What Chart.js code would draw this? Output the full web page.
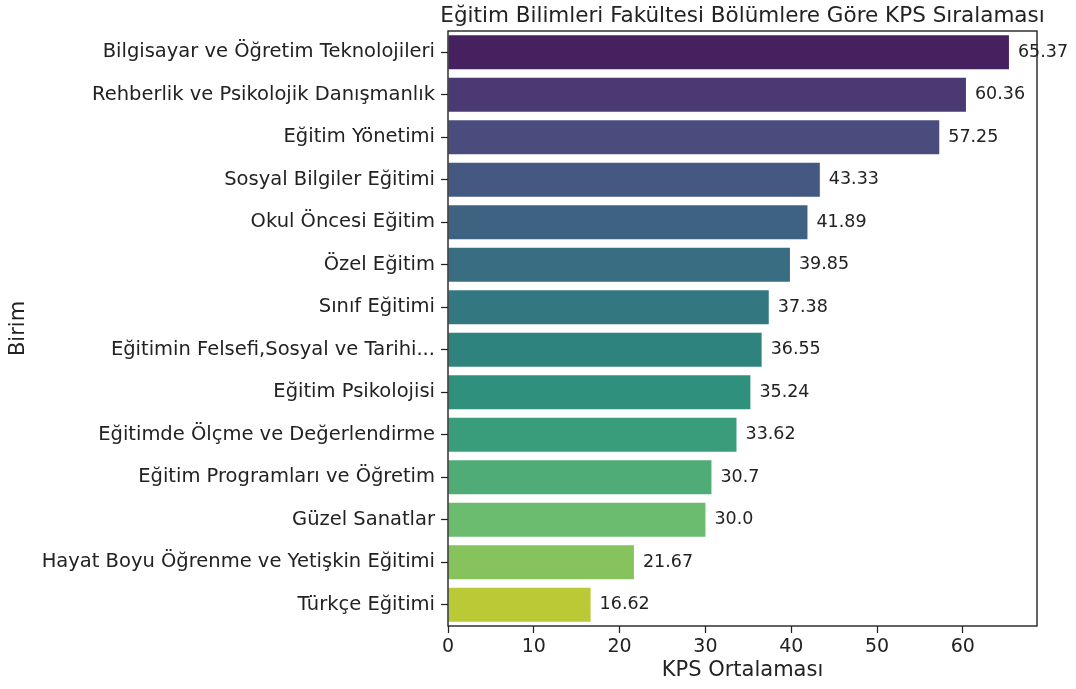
<!DOCTYPE html>
<html>
<head>
<meta charset="utf-8">
<script src="https://cdn.jsdelivr.net/npm/chart.js@4/dist/chart.umd.min.js"></script>
<style>
  html, body { margin: 0; padding: 0; background: #fff; }
  #wrap { width: 1076px; height: 689px; }
</style>
</head>
<body>
<div id="wrap"><canvas id="kps" width="1076" height="689"></canvas></div>
<script>
// Bölümler (top to bottom)
const categories = [
  "Bilgisayar ve Öğretim Teknolojileri",
  "Rehberlik ve Psikolojik Danışmanlık",
  "Eğitim Yönetimi",
  "Sosyal Bilgiler Eğitimi",
  "Okul Öncesi Eğitim",
  "Özel Eğitim",
  "Sınıf Eğitimi",
  "Eğitimin Felsefi,Sosyal ve Tarihi...",
  "Eğitim Psikolojisi",
  "Eğitimde Ölçme ve Değerlendirme",
  "Eğitim Programları ve Öğretim",
  "Güzel Sanatlar",
  "Hayat Boyu Öğrenme ve Yetişkin Eğitimi",
  "Türkçe Eğitimi",
];

const kpsMeans = [65.37, 60.36, 57.25, 43.33, 41.89, 39.85, 37.38, 36.55, 35.24, 33.62, 30.7, 30.0, 21.67, 16.62];
const valueLabels = ["65.37", "60.36", "57.25", "43.33", "41.89", "39.85", "37.38", "36.55", "35.24", "33.62", "30.7", "30.0", "21.67", "16.62"];
const xTicks = [0, 10, 20, 30, 40, 50, 60];
const chartTitle = "Eğitim Bilimleri Fakültesi Bölümlere Göre KPS Sıralaması";

// viridis samples, muted like seaborn's barplot
const viridis = ["#481769", "#472f7d", "#414487", "#3a548c", "#33638d", "#2c728e", "#26828e",
                 "#21918c", "#1fa088", "#28ae80", "#3fbc73", "#5ec962", "#84d44b", "#cde11d"];

const FONT = "'DejaVu Sans', sans-serif";
const INK = "#222";

function desaturate(hex, prop) {
  let r = parseInt(hex.slice(1, 3), 16) / 255;
  let g = parseInt(hex.slice(3, 5), 16) / 255;
  let b = parseInt(hex.slice(5, 7), 16) / 255;
  const mx = Math.max(r, g, b), mn = Math.min(r, g, b);
  const l = (mx + mn) / 2;
  if (mx === mn) return hex;
  const d = mx - mn;
  const s = l > 0.5 ? d / (2 - mx - mn) : d / (mx + mn);
  let h;
  if (mx === r) h = ((g - b) / d + (g < b ? 6 : 0)) / 6;
  else if (mx === g) h = ((b - r) / d + 2) / 6;
  else h = ((r - g) / d + 4) / 6;
  const s2 = s * prop;
  const q = l < 0.5 ? l * (1 + s2) : l + s2 - l * s2;
  const p = 2 * l - q;
  const hue = (t) => {
    if (t < 0) t += 1;
    if (t > 1) t -= 1;
    if (t < 1 / 6) return p + (q - p) * 6 * t;
    if (t < 1 / 2) return q;
    if (t < 2 / 3) return p + (q - p) * (2 / 3 - t) * 6;
    return p;
  };
  const to = (v) => Math.round(v * 255).toString(16).padStart(2, "0");
  return "#" + to(hue(h + 1 / 3)) + to(hue(h)) + to(hue(h - 1 / 3));
}

const barColors = viridis.map((c) => desaturate(c, 0.75));

// frame around the plot
const framePlugin = {
  id: "frame",
  afterDatasetsDraw(chart) {
    const { ctx, chartArea: a } = chart;
    ctx.save();
    ctx.strokeStyle = INK;
    ctx.lineWidth = 1.4;
    ctx.strokeRect(a.left, a.top, a.right - a.left, a.bottom - a.top);
    ctx.restore();
  },
};

// title centred over the plot (may run wider than it), value text beside bars
const textPlugin = {
  id: "texts",
  afterDraw(chart) {
    const { ctx, chartArea: a } = chart;
    ctx.save();
    ctx.fillStyle = INK;
    ctx.font = "21.5px " + FONT;
    ctx.textAlign = "center";
    ctx.textBaseline = "middle";
    ctx.fillText(chartTitle, (a.left + a.right) / 2, 16);

    ctx.font = "17.5px " + FONT;
    ctx.textAlign = "left";
    chart.getDatasetMeta(0).data.forEach((bar, i) => {
      ctx.fillText(valueLabels[i], bar.x + 9, bar.y);
    });
    ctx.restore();
  },
};

new Chart(document.getElementById("kps"), {
  type: "bar",
  data: {
    labels: categories,
    datasets: [{
      data: kpsMeans,
      backgroundColor: barColors,
      borderWidth: 0,
      categoryPercentage: 1.0,
      barPercentage: 0.8,
    }],
  },
  options: {
    indexAxis: "y",
    responsive: false,
    animation: false,
    devicePixelRatio: 1,
    layout: { padding: { top: 31, right: 39, bottom: 0, left: 0 } },
    scales: {
      x: {
        type: "linear",
        min: 0,
        max: 68.64,
        afterBuildTicks: (s) => { s.ticks = xTicks.map((v) => ({ value: v })); },
        afterFit: (s) => { s.height = 63; },
        grid: { drawOnChartArea: false, drawTicks: true, tickLength: 7, color: INK, tickWidth: 1.25 },
        border: { display: false },
        ticks: { color: INK, font: { family: FONT, size: 19 }, padding: 3, maxRotation: 0 },
        title: {
          display: true,
          text: "KPS Ortalaması",
          color: INK,
          font: { family: FONT, size: 21 },
          padding: { top: 0, bottom: 6 },
        },
      },
      y: {
        type: "category",
        afterFit: (s) => { s.width = 448; },
        grid: { offset: false, drawOnChartArea: false, drawTicks: true, tickLength: 7, color: INK, tickWidth: 1.25 },
        border: { display: false },
        ticks: { color: INK, font: { family: FONT, size: 19.5 }, padding: 6, autoSkip: false },
        title: {
          display: true,
          text: "Birim",
          color: INK,
          font: { family: FONT, size: 21 },
          padding: { top: 6, bottom: 0 },
        },
      },
    },
    plugins: {
      legend: { display: false },
      tooltip: { enabled: false },
      title: { display: false },
    },
  },
  plugins: [framePlugin, textPlugin],
});
</script>
</body>
</html>
